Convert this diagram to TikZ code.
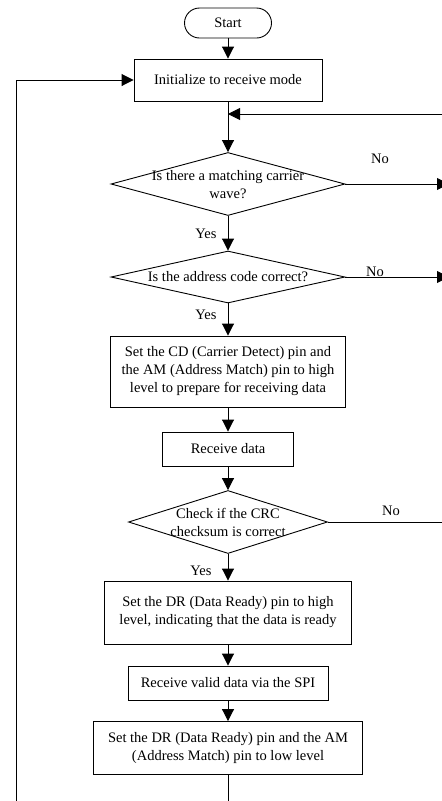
\documentclass[tikz,border=0pt]{standalone}
\usepackage{fontspec}
\setmainfont{Liberation Serif}
\usepackage{tikz}
\usetikzlibrary{arrows.meta,positioning,shapes.geometric}

\begin{document}
\begin{tikzpicture}[x=1pt,y=-1pt,>={Triangle[length=12pt,width=12pt]},
    line width=0.9pt,
    every node/.style={font=\fontsize{14.5}{18}\selectfont},
    terminal/.style={draw,rounded corners=15pt,minimum width=87pt,minimum height=30pt,inner sep=0pt},
    process/.style={draw,align=center,inner sep=0pt},
    decision/.style={draw,diamond,inner sep=0pt},
    tag/.style={inner sep=0pt}]
    \useasboundingbox (0,0) rectangle (442,801);

    % Main column
    \node[terminal] (start) at (228,23) {Start};
    \node[process,minimum width=188pt,minimum height=42pt] (init) at (228,80) {Initialize to receive mode};
    \node[decision,minimum width=234pt,minimum height=63pt] (carrier) at (228,184) {};
    \node[align=center,inner sep=0pt] (carriertxt) at (228,185) {Is there a matching carrier\\wave?};
    \node[decision,minimum width=234pt,minimum height=52pt] (addr) at (228,277) {};
    \node[inner sep=0pt] (addrtxt) at (228,277) {Is the address code correct?};
    \node[process,minimum width=235pt,minimum height=71pt] (setcd) at (228,371.5) {Set the CD (Carrier Detect) pin and\\the AM (Address Match) pin to high\\level to prepare for receiving data};
    \node[process,minimum width=131pt,minimum height=34pt] (recv) at (228,449) {Receive data};
    \node[decision,minimum width=199pt,minimum height=63pt] (crc) at (228,522) {};
    \node[align=center,inner sep=0pt] (crctxt) at (228,522) {Check if the CRC\\checksum is correct};
    \node[process,minimum width=247pt,minimum height=63pt] (setdr) at (228,612.5) {Set the DR (Data Ready) pin to high\\level, indicating that the data is ready};
    \node[process,minimum width=200pt,minimum height=34pt] (spi) at (228,683) {Receive valid data via the SPI};
    \node[process,minimum width=269pt,minimum height=53pt] (setlow) at (228,748) {Set the DR (Data Ready) pin and the AM\\(Address Match) pin to low level};

    % Labels
    \node[tag] (yes1) at (206,234) {Yes};
    \node[tag] (yes2) at (206,315) {Yes};
    \node[tag] (yes3) at (201,571) {Yes};
    \node[tag] (no1) at (380,159) {No};
    \node[tag] (no2) at (375,272) {No};
    \node[tag] (no3) at (391,511) {No};

    % Loose ends
    \coordinate (back) at (228,114);
    \coordinate (backin) at (460,114);
    \coordinate (out1) at (449,184);
    \coordinate (out2) at (449,277);
    \coordinate (out3) at (460,522);
    \coordinate (down) at (228,810);
    \coordinate (loopbot) at (16,810);
    \coordinate (looptop) at (16,80);

    % Connectors
    \draw[->] (start) -- (init);
    \draw[->] (init) -- (carrier);
    \draw[->] (backin) -- (back);
    \draw[->] (carrier) -- (addr);
    \draw[->] (carrier.east) -- (out1);
    \draw[->] (addr.east) -- (out2);
    \draw[->] (addr) -- (setcd);
    \draw[->] (setcd) -- (recv);
    \draw[->] (recv) -- (crc);
    \draw (crc.east) -- (out3);
    \draw[->] (crc) -- (setdr);
    \draw[->] (setdr) -- (spi);
    \draw[->] (spi) -- (setlow);
    \draw (setlow) -- (down);
    \draw[->] (loopbot) -- (looptop) -- (init.west);
\end{tikzpicture}
\end{document}
